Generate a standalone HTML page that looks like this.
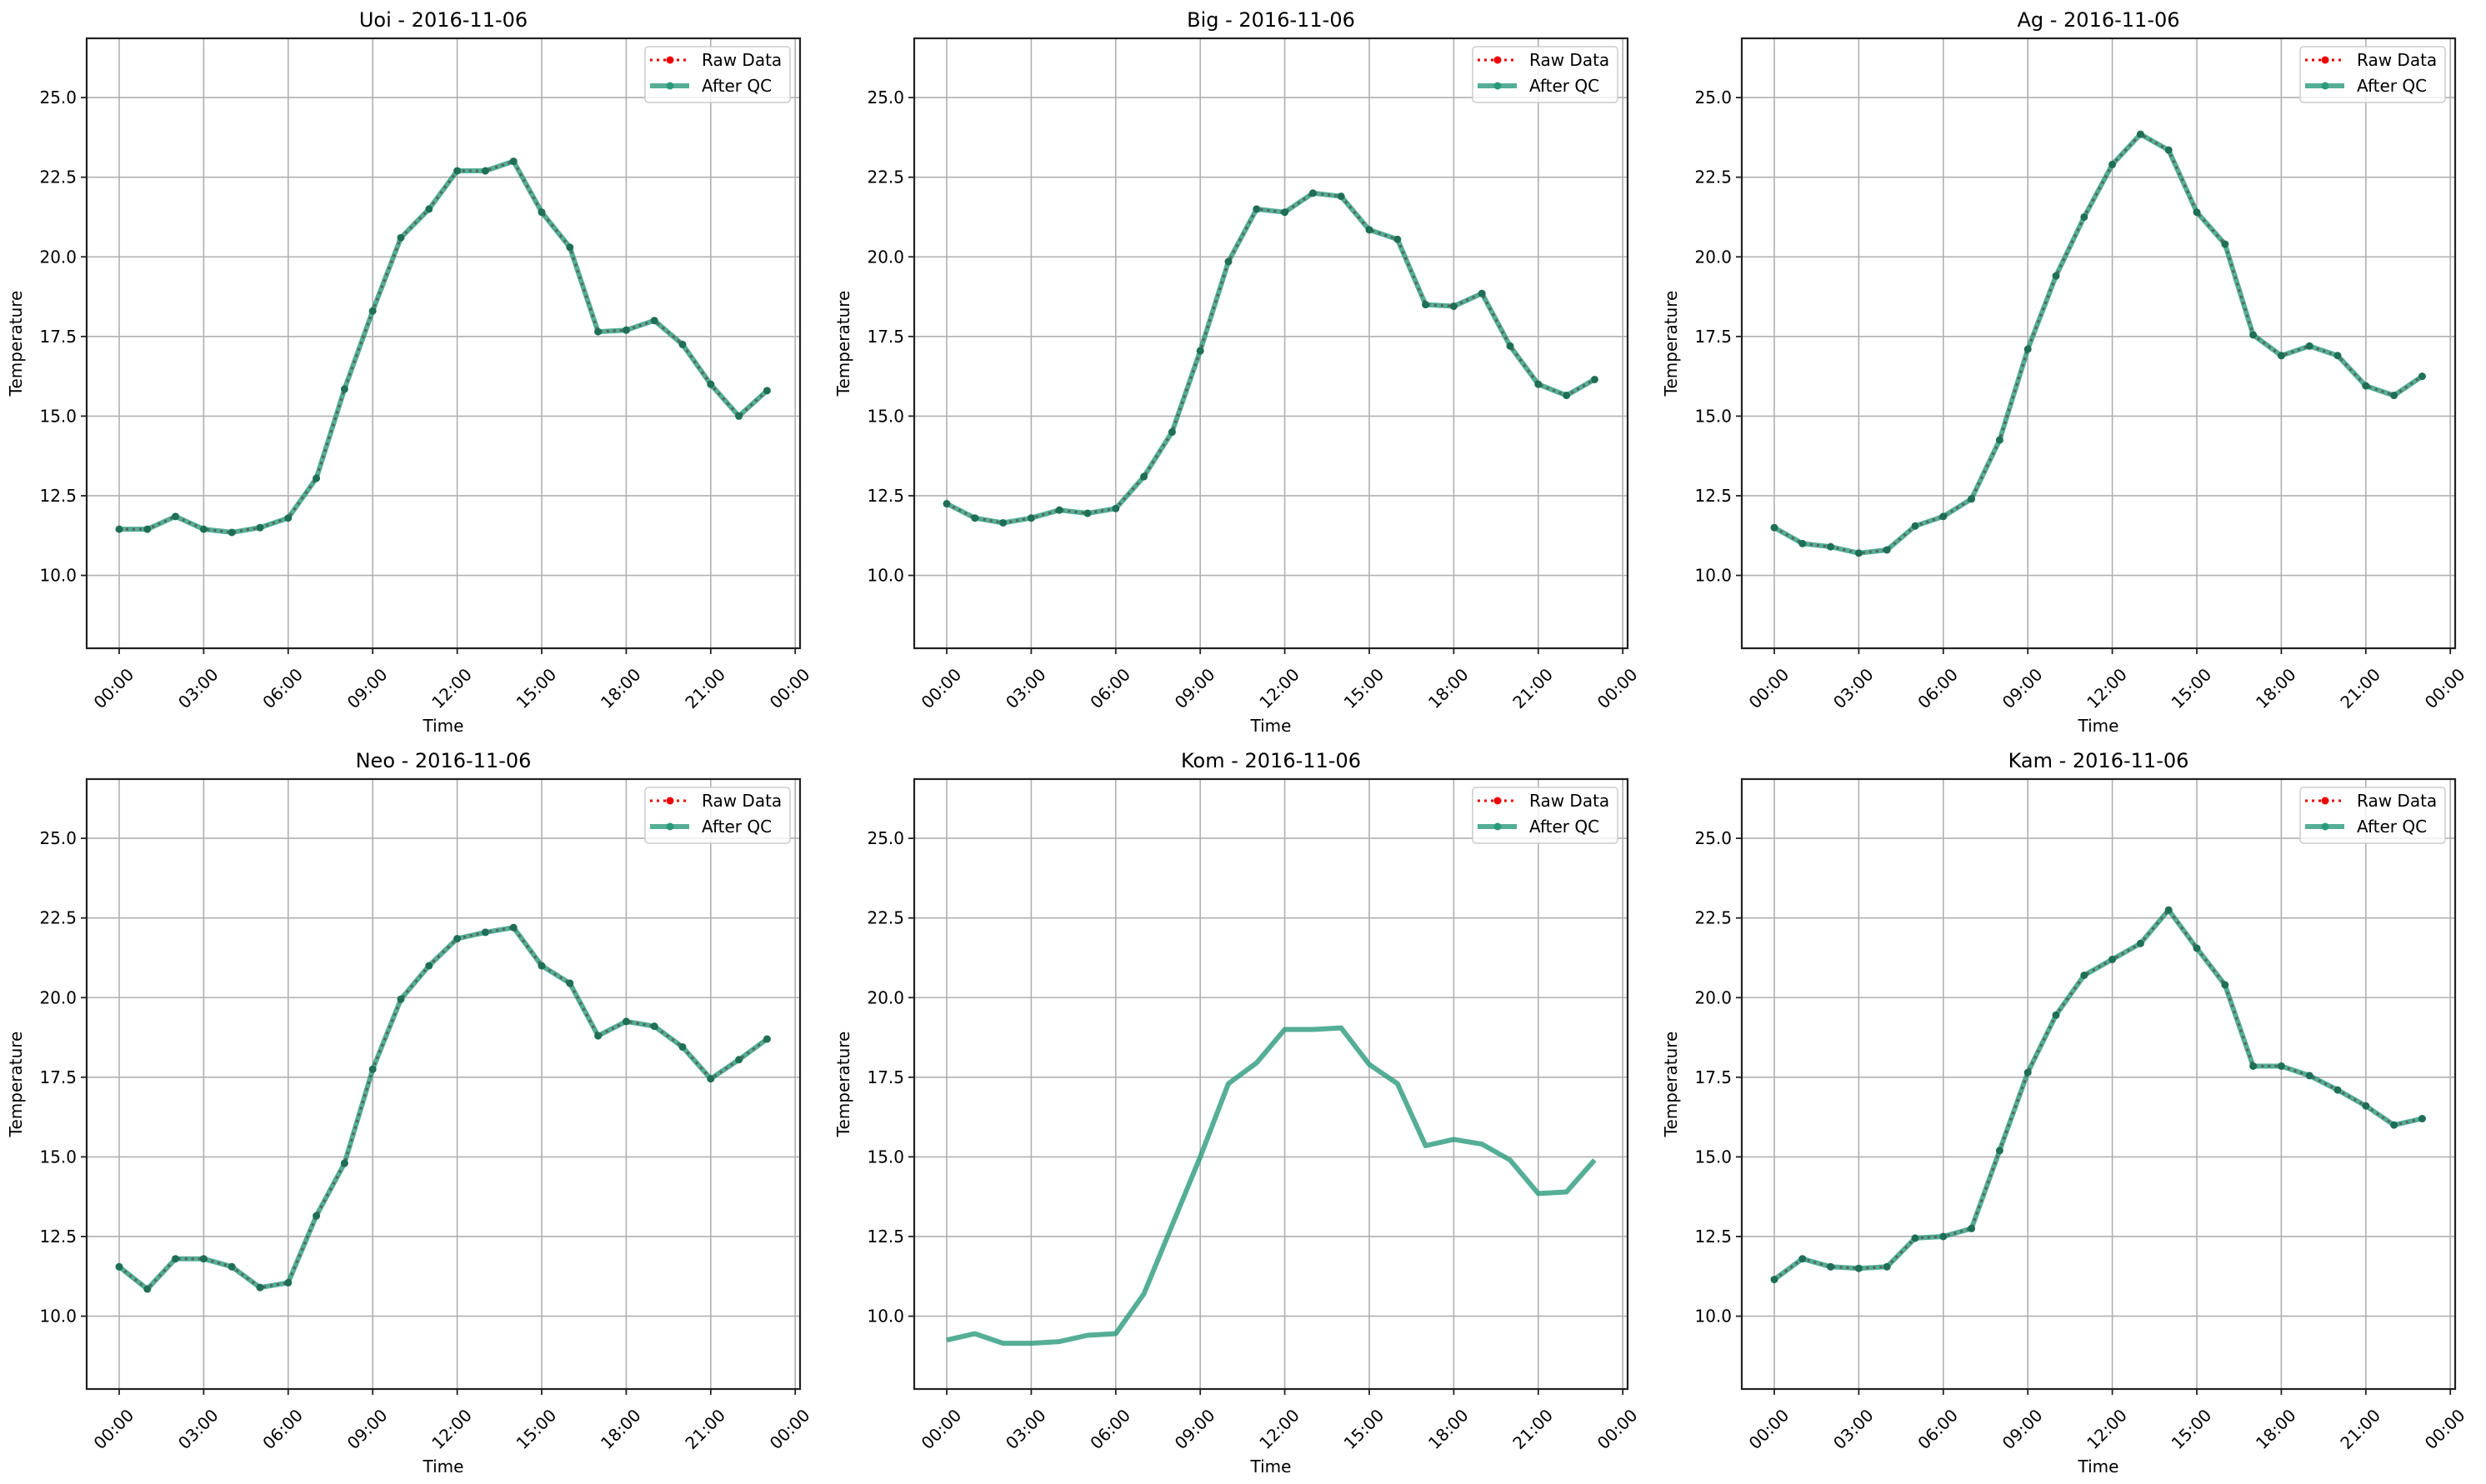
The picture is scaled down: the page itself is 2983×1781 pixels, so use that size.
<!DOCTYPE html>
<html><head><meta charset="utf-8">
<style>
html,body{margin:0;padding:0;background:#fff;}
svg{display:block;font-family:"DejaVu Sans","Liberation Sans",sans-serif;}
</style></head>
<body>
<svg id="s" width="2983" height="1781" viewBox="0 0 2983 1781" xmlns="http://www.w3.org/2000/svg"></svg>
<script>
const panels=[
 ["Uoi - 2016-11-06",104,46,[11.45,11.45,11.85,11.45,11.35,11.5,11.8,13.05,15.85,18.3,20.6,21.5,22.7,22.7,23.0,21.4,20.3,17.65,17.7,18.0,17.25,16.0,15.0,15.8],true],
 ["Big - 2016-11-06",1097,46,[12.25,11.8,11.65,11.8,12.05,11.95,12.1,13.1,14.5,17.05,19.85,21.5,21.4,22.0,21.9,20.85,20.55,18.5,18.45,18.85,17.2,16.0,15.65,16.15],true],
 ["Ag - 2016-11-06",2090,46,[11.5,11.0,10.9,10.7,10.8,11.55,11.85,12.4,14.25,17.1,19.4,21.25,22.9,23.85,23.35,21.4,20.4,17.55,16.9,17.2,16.9,15.95,15.65,16.25],true],
 ["Neo - 2016-11-06",104,935,[11.55,10.85,11.8,11.8,11.55,10.9,11.05,13.15,14.8,17.75,19.95,21.0,21.85,22.05,22.2,21.0,20.45,18.8,19.25,19.1,18.45,17.45,18.05,18.7],true],
 ["Kom - 2016-11-06",1097,935,[9.25,9.45,9.15,9.15,9.2,9.4,9.45,10.7,12.85,15.0,17.3,17.95,19.0,19.0,19.05,17.9,17.3,15.35,15.55,15.4,14.9,13.85,13.9,14.9],false],
 ["Kam - 2016-11-06",2090,935,[11.15,11.8,11.55,11.5,11.55,12.45,12.5,12.75,15.2,17.65,19.45,20.7,21.2,21.7,22.75,21.55,20.4,17.85,17.85,17.55,17.1,16.6,16.0,16.2],true]
];
const W=856,H=732,G="#2a9a7c";
let o="";
for(const [t,L,T,d,raw] of panels){
 const X=h=>L+39+h*33.8, Y=v=>T+(26.86-v)*38.23;
 for(let h=0;h<=24;h+=3) o+=`<line x1="${X(h)}" y1="${T}" x2="${X(h)}" y2="${T+H}" stroke="#b0b0b0" stroke-width="1.6"/>`;
 for(let v=10;v<=25;v+=2.5) o+=`<line x1="${L}" y1="${Y(v)}" x2="${L+W}" y2="${Y(v)}" stroke="#b0b0b0" stroke-width="1.6"/>`;
 const pts=d.map((v,i)=>X(i).toFixed(1)+","+Y(v).toFixed(1)).join(" ");
 if(raw){
  o+=`<polyline points="${pts}" fill="none" stroke="#e00" stroke-width="3" stroke-dasharray="3,5"/>`;
  d.forEach((v,i)=>o+=`<circle cx="${X(i)}" cy="${Y(v)}" r="4" fill="#e00"/>`);
 }
 o+=`<g opacity="0.8"><polyline points="${pts}" fill="none" stroke="${G}" stroke-width="6" stroke-linejoin="round"/></g>`;
 if(raw){
  o+=`<polyline points="${pts}" fill="none" stroke="#555" stroke-opacity="0.55" stroke-width="3" stroke-dasharray="3,5"/>`;
  d.forEach((v,i)=>o+=`<circle cx="${X(i)}" cy="${Y(v)}" r="4.5" fill="#1e6f55"/>`);
 }
 o+=`<rect x="${L}" y="${T}" width="${W}" height="${H}" fill="none" stroke="#222" stroke-width="2.2"/>`;
 const lab=["00:00","03:00","06:00","09:00","12:00","15:00","18:00","21:00","00:00"];
 for(let k=0;k<=8;k++){const x=X(k*3);
  o+=`<line x1="${x}" y1="${T+H}" x2="${x}" y2="${T+H+7}" stroke="#222" stroke-width="1.8"/>`;
  o+=`<text x="${x+8}" y="${T+H+22}" font-size="20" text-anchor="end" transform="rotate(-45 ${x+8} ${T+H+22})" dominant-baseline="hanging">${lab[k]}</text>`;}
 for(let v=10;v<=25;v+=2.5){const y=Y(v);
  o+=`<line x1="${L-7}" y1="${y}" x2="${L}" y2="${y}" stroke="#222" stroke-width="1.8"/>`;
  o+=`<text x="${L-12}" y="${y+7}" font-size="20" text-anchor="end">${v.toFixed(1)}</text>`;}
 o+=`<text x="${L+W/2}" y="${T-14}" font-size="24" text-anchor="middle">${t}</text>`;
 o+=`<text x="${L+W/2}" y="${T+H+100}" font-size="20" text-anchor="middle">Time</text>`;
 o+=`<text x="${L-78}" y="${T+H/2}" font-size="20" text-anchor="middle" transform="rotate(-90 ${L-78} ${T+H/2})">Temperature</text>`;
 const lx=L+W-186, ly=T+10;
 o+=`<rect x="${lx}" y="${ly}" width="174" height="67" rx="4" fill="#fff" fill-opacity="0.8" stroke="#ccc" stroke-width="1.5"/>`;
 o+=`<line x1="${lx+6}" y1="${ly+16}" x2="${lx+53}" y2="${ly+16}" stroke="#e00" stroke-width="3" stroke-dasharray="3,5"/><circle cx="${lx+30}" cy="${ly+16}" r="4.5" fill="#e00"/>`;
 o+=`<text x="${lx+68}" y="${ly+23}" font-size="20">Raw Data</text>`;
 o+=`<line x1="${lx+6}" y1="${ly+47}" x2="${lx+53}" y2="${ly+47}" stroke="${G}" stroke-opacity="0.8" stroke-width="6"/><circle cx="${lx+30}" cy="${ly+47}" r="4.5" fill="${G}"/>`;
 o+=`<text x="${lx+68}" y="${ly+54}" font-size="20">After QC</text>`;
}
document.getElementById("s").innerHTML=o;
</script>
</body></html>
